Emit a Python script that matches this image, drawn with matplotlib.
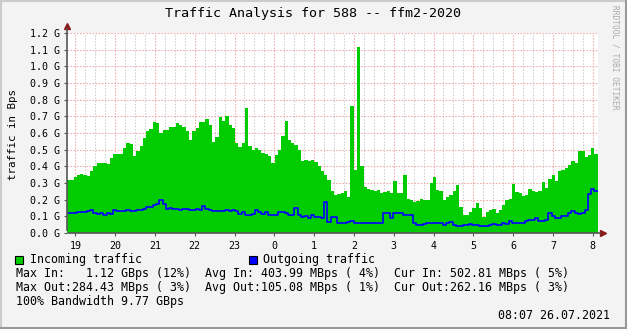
import matplotlib
matplotlib.use("Agg")
import matplotlib.pyplot as plt
import matplotlib.dates as mdates
from matplotlib.patches import Rectangle
from matplotlib.lines import Line2D
from matplotlib.ticker import FuncFormatter, MultipleLocator
import pandas as pd

# time window of the graph
t_start = pd.Timestamp("2021-07-25 18:47:30")
t_end = pd.Timestamp("2021-07-26 08:07:30")

# incoming traffic, G (one value per sample)
incoming = [
    0.32, 0.32, 0.334, 0.348, 0.355, 0.348, 0.34, 0.372, 0.40, 0.42,
    0.42, 0.42, 0.415, 0.45, 0.474, 0.472, 0.472, 0.51, 0.538, 0.535,
    0.46, 0.49, 0.52, 0.568, 0.61, 0.625, 0.668, 0.66, 0.60, 0.62,
    0.615, 0.638, 0.638, 0.66, 0.65, 0.638, 0.61, 0.558, 0.61, 0.63,
    0.668, 0.668, 0.682, 0.65, 0.548, 0.578, 0.694, 0.67, 0.70, 0.65,
    0.628, 0.538, 0.518, 0.538, 0.748, 0.52, 0.498, 0.51, 0.50, 0.478,
    0.474, 0.46, 0.42, 0.466, 0.50, 0.58, 0.67, 0.56, 0.54, 0.53,
    0.50, 0.43, 0.438, 0.43, 0.438, 0.424, 0.40, 0.37, 0.35, 0.32,
    0.25, 0.23, 0.234, 0.24, 0.25, 0.218, 0.76, 0.378, 1.118, 0.40,
    0.278, 0.262, 0.255, 0.252, 0.255, 0.24, 0.245, 0.252, 0.24, 0.31,
    0.24, 0.24, 0.35, 0.206, 0.196, 0.186, 0.19, 0.206, 0.20, 0.198,
    0.298, 0.338, 0.26, 0.25, 0.20, 0.215, 0.23, 0.25, 0.288, 0.158,
    0.108, 0.108, 0.128, 0.148, 0.178, 0.148, 0.096, 0.128, 0.14, 0.145,
    0.118, 0.14, 0.17, 0.2, 0.206, 0.294, 0.244, 0.238, 0.22, 0.23,
    0.262, 0.25, 0.246, 0.25, 0.304, 0.27, 0.322, 0.35, 0.31, 0.37,
    0.38, 0.39, 0.408, 0.43, 0.42, 0.49, 0.49, 0.458, 0.47, 0.508,
    0.474,
]

# outgoing traffic, G
outgoing = [
    0.122, 0.122, 0.118, 0.124, 0.124, 0.124, 0.13, 0.138, 0.118, 0.114,
    0.122, 0.11, 0.12, 0.114, 0.138, 0.134, 0.13, 0.13, 0.138, 0.134,
    0.134, 0.14, 0.14, 0.146, 0.156, 0.156, 0.166, 0.176, 0.198, 0.176,
    0.144, 0.15, 0.146, 0.146, 0.138, 0.146, 0.146, 0.138, 0.138, 0.146,
    0.138, 0.16, 0.142, 0.138, 0.13, 0.13, 0.13, 0.13, 0.138, 0.13,
    0.138, 0.134, 0.114, 0.126, 0.11, 0.106, 0.114, 0.138, 0.124, 0.114,
    0.126, 0.11, 0.11, 0.11, 0.124, 0.126, 0.12, 0.106, 0.11, 0.15,
    0.11, 0.096, 0.10, 0.09, 0.11, 0.096, 0.096, 0.088, 0.188, 0.066,
    0.098, 0.098, 0.058, 0.058, 0.062, 0.066, 0.07, 0.058, 0.058, 0.062,
    0.062, 0.058, 0.058, 0.058, 0.062, 0.062, 0.118, 0.118, 0.09, 0.118,
    0.118, 0.122, 0.11, 0.106, 0.106, 0.058, 0.048, 0.048, 0.052, 0.058,
    0.058, 0.058, 0.058, 0.058, 0.048, 0.058, 0.066, 0.048, 0.04, 0.04,
    0.048, 0.048, 0.052, 0.048, 0.048, 0.044, 0.044, 0.044, 0.048, 0.052,
    0.048, 0.048, 0.058, 0.052, 0.07, 0.058, 0.058, 0.058, 0.062, 0.07,
    0.078, 0.08, 0.088, 0.07, 0.075, 0.08, 0.118, 0.104, 0.092, 0.088,
    0.104, 0.10, 0.118, 0.134, 0.12, 0.112, 0.118, 0.14, 0.232, 0.266,
    0.254,
]

title = "Traffic Analysis for 588 -- ffm2-2020"
ylabel = "traffic in Bps"
stats_lines = [
    "Max In:   1.12 GBps (12%)  Avg In: 403.99 MBps ( 4%)  Cur In: 502.81 MBps ( 5%)",
    "Max Out:284.43 MBps ( 3%)  Avg Out:105.08 MBps ( 1%)  Cur Out:262.16 MBps ( 3%)",
    "100% Bandwidth 9.77 GBps",
]
stamp = "08:07 26.07.2021"

W, H = 627, 329
BG = "#f3f3f3"
plt.rcParams["font.family"] = "DejaVu Sans Mono"


def fx(x):
    return x / W


def fy(y):
    return 1 - y / H


fig = plt.figure(figsize=(W / 100, H / 100), dpi=100, facecolor=BG)
ax = fig.add_axes([fx(67), fy(233), (597.7 - 67) / W, 200 / H])
ax.set_facecolor("white")

edges = pd.date_range(t_start, t_end, periods=len(incoming) + 1)
ax.fill_between(edges, incoming + [incoming[-1]], step="post", color="#00cc00", lw=0, zorder=2)
ax.step(edges, outgoing + [outgoing[-1]], where="post", color="#0000ff", lw=1.2, zorder=3)

ax.set_xlim(t_start, t_end)
ax.set_ylim(0, 1.2)

# grid
ax.xaxis.set_major_locator(mdates.HourLocator())
ax.xaxis.set_minor_locator(mdates.MinuteLocator(byminute=[15, 30, 45]))
ax.xaxis.set_major_formatter(FuncFormatter(lambda v, p: str(mdates.num2date(v).hour)))
ax.yaxis.set_major_locator(MultipleLocator(0.1))
ax.yaxis.set_major_formatter(FuncFormatter(lambda v, p: "%.1f G" % v))
ax.set_axisbelow(True)
ax.grid(which="major", color="#f2a8a8", lw=0.75, ls=(0, (1.5, 1.5)), zorder=0)
ax.grid(which="minor", axis="x", color="#cfcfcf", lw=0.75, ls=(0, (1.5, 1.5)), zorder=0)

ax.tick_params(axis="both", which="major", labelsize=7.2, length=2.5, width=0.8,
               color="#555555", pad=2.5)
ax.tick_params(axis="x", which="minor", length=0)
ax.tick_params(axis="x", which="major", pad=3)
for s in ax.spines.values():
    s.set_visible(False)

# axes with arrows
ax.annotate("", xy=(0, 1.035), xytext=(0, 0), xycoords="axes fraction",
            arrowprops=dict(arrowstyle="-", color="#555555", lw=1.2), annotation_clip=False)
ax.annotate("", xy=(1.01, 0), xytext=(-0.003, 0), xycoords="axes fraction",
            arrowprops=dict(arrowstyle="-", color="#555555", lw=1.2), annotation_clip=False)
ax.plot([0], [1.035], marker="^", ms=5, color="#8b1a1a", transform=ax.transAxes, clip_on=False)
ax.plot([1.01], [0], marker=">", ms=5, color="#8b1a1a", transform=ax.transAxes, clip_on=False)

# y label, title and side note
fig.text(fx(13), fy(135), ylabel, rotation=90, ha="center", va="center", fontsize=7.8)
fig.text(fx(313), fy(13), title, ha="center", va="center", fontsize=9.6)
fig.text(fx(615.5), fy(57), "RRDTOOL / TOBI OETIKER", rotation=270, ha="center", va="center",
         fontsize=5.7, color="#aaaaaa")

# legend
fig.patches.append(Rectangle((fx(15.5), fy(263.5)), 8 / W, 8 / H, transform=fig.transFigure,
                             facecolor="#00cc00", edgecolor="black", lw=0.8))
fig.text(fx(30), fy(259), "Incoming traffic", ha="left", va="center", fontsize=8.4)
fig.patches.append(Rectangle((fx(248.5), fy(263.5)), 8 / W, 8 / H, transform=fig.transFigure,
                             facecolor="#0000ff", edgecolor="black", lw=0.8))
fig.text(fx(263), fy(259), "Outgoing traffic", ha="left", va="center", fontsize=8.4)

for k, line in enumerate(stats_lines):
    fig.text(fx(16), fy(273.5 + 14 * k), line, ha="left", va="center", fontsize=8.4)
fig.text(fx(610), fy(315.5), stamp, ha="right", va="center", fontsize=8.4)

# frame
fig.lines.append(Line2D([0, 1], [fy(0.5)] * 2, transform=fig.transFigure, color="#cbcbcb", lw=1.5))
fig.lines.append(Line2D([fx(0.5)] * 2, [0, 1], transform=fig.transFigure, color="#cbcbcb", lw=1.5))
fig.lines.append(Line2D([0, 1], [fy(328)] * 2, transform=fig.transFigure, color="#999999", lw=2.2))
fig.lines.append(Line2D([fx(626)] * 2, [0, 1], transform=fig.transFigure, color="#999999", lw=2.2))

fig.savefig("out.png", dpi=100, facecolor=BG)
